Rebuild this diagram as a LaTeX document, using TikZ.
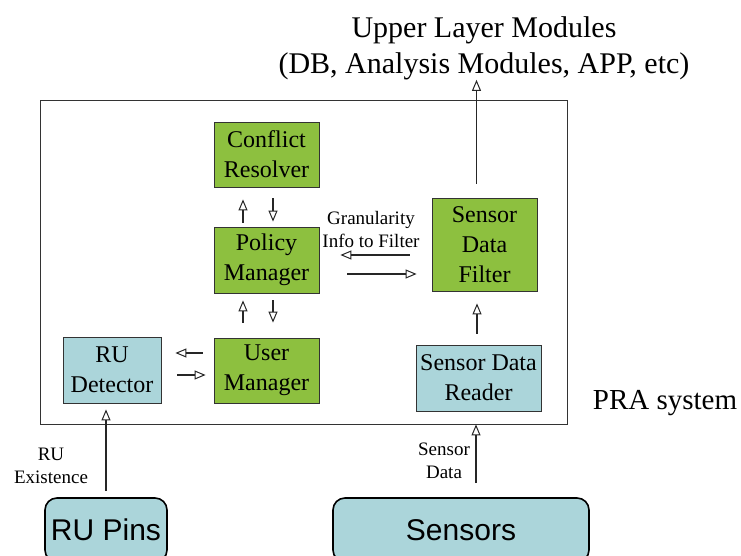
\documentclass[tikz,border=0pt]{standalone}
\usepackage{fontspec}
\setmainfont{Liberation Serif}
\setsansfont{Liberation Sans}
\usetikzlibrary{arrows.meta}
\definecolor{g1}{HTML}{8DC03F}
\definecolor{b1}{HTML}{ABD5DA}
\tikzset{>={Triangle[open,length=11pt,width=9pt,line width=1pt]}}
\tikzstyle{module}=[draw=black!80,line width=0.8pt,align=center,inner sep=0pt,font=\fontsize{24}{30}\selectfont]
\tikzstyle{green module}=[module,fill=g1]
\tikzstyle{blue module}=[module,fill=b1]
\tikzstyle{device}=[draw=black,line width=1.6pt,rounded corners=12pt,fill=b1,inner sep=0pt,font=\sffamily\fontsize{30}{36}\selectfont]
\tikzstyle{flow}=[->,line width=1.4pt,black!85]
\tikzstyle{small label}=[align=center,inner sep=0pt,font=\fontsize{19}{23}\selectfont]

\begin{document}
\begin{tikzpicture}[x=1pt,y=-1pt]
  \useasboundingbox (0,0) rectangle (741,556);
  % system frame
  \draw[black!80,line width=0.8pt] (40,100) rectangle (567,424);
  \node[inner sep=0pt,font=\fontsize{29}{34}\selectfont] (pra) at (665,403) {PRA system};
  \node[inner sep=0pt,align=center,font=\fontsize{30}{36}\selectfont] (upper) at (484,48)
       {Upper Layer Modules\\(DB, Analysis Modules, APP, etc)};

  % modules
  \node[green module,minimum width=105pt,minimum height=65pt] (resolver) at (266.5,154.5) {Conflict\\Resolver};
  \node[green module,minimum width=105pt,minimum height=66pt] (policy) at (266.5,260) {Policy\\Manager};
  \node[green module,minimum width=105pt,minimum height=65pt] (user) at (266.5,370.5) {User\\Manager};
  \node[blue module,minimum width=98pt,minimum height=66pt] (detector) at (112,370) {RU\\Detector};
  \node[green module,minimum width=105pt,minimum height=93pt] (filter) at (484.5,244.5) {Sensor\\Data\\Filter};
  \node[blue module,minimum width=125pt,minimum height=66pt] (reader) at (478.5,378) {Sensor Data\\Reader};

  % devices
  \node[device,minimum width=122pt,minimum height=64pt] (pins) at (106,530) {RU Pins};
  \node[device,minimum width=256pt,minimum height=64pt] (sensors) at (461,530) {Sensors};

  % labels
  \node[small label] (granularity) at (371,230) {Granularity\\Info to Filter};
  \node[small label] (existence) at (51,466) {RU\\Existence};
  \node[small label] (sdata) at (444,461) {Sensor\\Data};

  % resolver <-> policy
  \draw[flow,shorten <=4pt,shorten >=12pt] ([xshift=-23.5pt]policy.north) -- ([xshift=-23.5pt]resolver.south);
  \draw[flow,shorten <=11pt,shorten >=5pt] ([xshift=6.5pt]resolver.south) -- ([xshift=6.5pt]policy.north);
  % policy <-> user
  \draw[flow,shorten <=15pt,shorten >=7pt] ([xshift=-23.5pt]user.north) -- ([xshift=-23.5pt]policy.south);
  \draw[flow,shorten <=7pt,shorten >=15pt] ([xshift=6.5pt]policy.south) -- ([xshift=6.5pt]user.north);
  % user <-> detector
  \draw[flow,shorten <=11pt,shorten >=14pt] ([yshift=17.5pt]user.west) -- ([yshift=17.5pt]user.west -| detector.east);
  \draw[flow,shorten <=16pt,shorten >=8pt] ([yshift=-4.5pt]user.west -| detector.east) -- ([yshift=-4.5pt]user.west);
  % policy <-> filter
  \draw[flow,shorten <=22pt,shorten >=21pt] ([yshift=5pt]policy.east -| filter.west) -- ([yshift=5pt]policy.east);
  \draw[flow,shorten <=28pt,shorten >=15pt] ([yshift=-14pt]policy.east) -- ([yshift=-14pt]policy.east -| filter.west);
  % data path
  \draw[flow,shorten <=11pt,shorten >=12pt] ([xshift=-1.5pt]reader.north) -- ([xshift=-1.5pt]reader.north |- filter.south);
  \draw[flow,shorten <=14pt] ([xshift=-8pt]filter.north) -- ([xshift=-8pt]filter.north |- upper.south);
  \draw[flow,shorten <=14pt,shorten >=13pt] ([xshift=-2.5pt]reader.south |- sensors.north) -- ([xshift=-2.5pt]reader.south);
  \draw[flow,shorten <=6pt,shorten >=6pt] (pins.north) -- (pins.north |- detector.south);
\end{tikzpicture}
\end{document}
